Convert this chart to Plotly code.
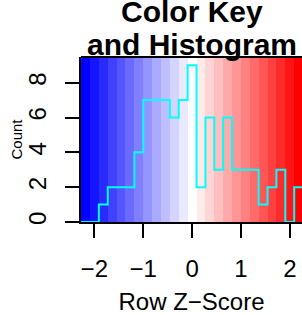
import numpy as np
import plotly.graph_objects as go

# Data
bin_edges = list(np.linspace(-2.27, 2.27, 26))
counts = [0, 0, 1, 2, 2, 2, 4, 7, 7, 7, 6, 7, 9, 2, 6, 3, 6, 3, 3, 3, 1, 2, 3, 0, 2]
x_tick_vals = [-2, -1, 0, 1, 2]
x_tick_text = ["\u22122", "\u22121", "0", "1", "2"]
y_tick_vals = [0, 2, 4, 6, 8]
y_tick_text = ["0", "2", "4", "6", "8"]

n = len(counts)
# bluered palette
colors = []
half = (n - 1) / 2
for i in range(n):
    if i <= half:
        v = round(255 * i / half)
        colors.append(f"rgb({v},{v},255)")
    else:
        v = round(255 * (n - 1 - i) / half)
        colors.append(f"rgb(255,{v},{v})")

centers = [(bin_edges[i] + bin_edges[i + 1]) / 2 for i in range(n)]
width = bin_edges[1] - bin_edges[0]
ymax = max(counts) / 0.95

FONT = "Liberation Sans, Arial, Helvetica, sans-serif"

fig = go.Figure()
fig.add_trace(go.Bar(x=centers, y=[ymax] * n, width=width, marker=dict(color=colors, line=dict(width=0)),
                     hoverinfo="skip", showlegend=False))
step_x = [bin_edges[0]]
step_y = [0]
for i, c in enumerate(counts):
    step_x += [bin_edges[i], bin_edges[i + 1]]
    step_y += [c, c]
step_x.append(bin_edges[-1])
step_y.append(0)
fig.add_trace(go.Scatter(x=step_x, y=step_y, mode="lines", line=dict(color="#00FFFF", width=2),
                         showlegend=False, hoverinfo="skip"))

fig.update_layout(
    width=302, height=315,
    margin=dict(l=81, r=0, t=57, b=93),
    paper_bgcolor="white", plot_bgcolor="white",
    bargap=0,
    font=dict(family=FONT, color="black", size=24),
    xaxis=dict(range=[-2.272, 2.248], tickvals=x_tick_vals, ticktext=x_tick_text,
               ticks="outside", ticklen=14, tickwidth=2, tickcolor="black",
               showline=True, linecolor="black", linewidth=2, showgrid=False, zeroline=False,
               tickfont=dict(size=24), ticklabelstandoff=10, automargin=False,
               title=dict(text="Row Z\u2212Score", font=dict(size=24), standoff=13)),
    yaxis=dict(range=[0, ymax], tickvals=y_tick_vals, ticktext=y_tick_text,
               ticks="outside", ticklen=14, tickwidth=2, tickcolor="black",
               showline=True, linecolor="black", linewidth=2, showgrid=False, zeroline=False,
               tickangle=-90, tickfont=dict(size=24), ticklabelstandoff=9, automargin=False),
    shapes=[dict(type="line", xref="paper", yref="paper", x0=0, x1=1, y0=1, y1=1,
                 line=dict(color="black", width=2), layer="above")],
    annotations=[
        dict(text="<b>Color Key</b>", xref="x", yref="paper", x=0, y=1, xanchor="center", yanchor="bottom",
             yshift=27, showarrow=False, font=dict(size=30, family=FONT)),
        dict(text="<b>and Histogram</b>", xref="x", yref="paper", x=0, y=1, xanchor="center", yanchor="bottom",
             yshift=-6, showarrow=False, font=dict(size=30, family=FONT)),
        dict(text="Count", xref="paper", yref="paper", x=0, y=0.5, xanchor="center", yanchor="middle",
             xshift=-65, textangle=-90, showarrow=False, font=dict(size=15, family=FONT)),
    ],
)

fig.write_html("out.html",
               config={"displayModeBar": False},
               post_script="document.body.style.margin='0';document.body.style.padding='0';"
                           "document.body.style.overflow='hidden';"
                           "document.documentElement.style.overflow='hidden';")
